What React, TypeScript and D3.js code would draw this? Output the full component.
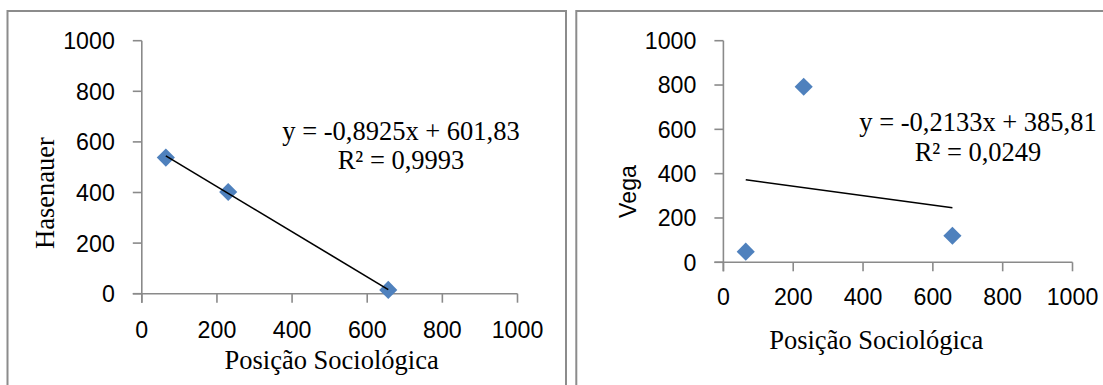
import React from "react";
import * as d3 from "d3";

// posição sociológica (x) shared by both panels
const posicao = [64, 230, 656];
const hasenauer = [538, 402, 15];
const vega = [48, 792, 120];
const tickValues = [0, 200, 400, 600, 800, 1000];

const panels = [
  {
    key: "hasenauer",
    yTitle: "Hasenauer",
    yTitleSerif: true,
    values: hasenauer,
    slope: -0.8925,
    intercept: 601.83,
    eq: "y = -0,8925x + 601,83",
    r2: "R² = 0,9993",
    frame: { x: 7.5, y: 11, w: 558.5 },
    xRange: [141.8, 517.5],
    yRange: [293.7, 40.7],
    xLabelDy: 44.5,
    yTitlePos: [44.6, 193],
    xTitlePos: [331.6, 369],
    eqPos: [401, 139.5, 168.5],
  },
  {
    key: "vega",
    yTitle: "Vega",
    yTitleSerif: false,
    values: vega,
    slope: -0.2133,
    intercept: 385.81,
    eq: "y = -0,2133x + 385,81",
    r2: "R² = 0,0249",
    frame: { x: 576.3, y: 11, w: 540 },
    xRange: [723.4, 1072.5],
    yRange: [262.3, 40.7],
    xLabelDy: 43,
    yTitlePos: [627.5, 191.5],
    xTitlePos: [876.3, 348.5],
    eqPos: [978, 131, 160.5],
  },
];

const SANS = "'Liberation Sans', Arial, sans-serif";
const SERIF = "'Liberation Serif', 'Times New Roman', serif";
const AXIS = "#8a8a8a";
const MARKER = "#4f81bd";
const TICK_FS = 23.2;

function Panel({ p }: { p: (typeof panels)[number] }) {
  const x = d3.scaleLinear().domain([0, 1000]).range(p.xRange);
  const y = d3.scaleLinear().domain([0, 1000]).range(p.yRange);
  const diamond = d3.symbol(d3.symbolDiamond2, 210)();
  const x0 = d3.min(posicao)!;
  const x1 = d3.max(posicao)!;

  return (
    <g>
      {/* chart frame, runs off the bottom of the picture */}
      <path
        d={`M${p.frame.x},400 V${p.frame.y} H${p.frame.x + p.frame.w}${p.key === "hasenauer" ? " V400" : ""}`}
        fill="none"
        stroke="#8c8c8c"
        strokeWidth={2}
      />

      {/* axes */}
      <line x1={x(0) - 9} x2={x(1000)} y1={y(0)} y2={y(0)} stroke={AXIS} strokeWidth={1.6} />
      <line x1={x(0)} x2={x(0)} y1={y(1000)} y2={y(0) + 9} stroke={AXIS} strokeWidth={1.6} />
      {tickValues.map((t) => (
        <g key={t}>
          <line x1={x(0) - 9} x2={x(0)} y1={y(t)} y2={y(t)} stroke={AXIS} strokeWidth={1.6} />
          <line x1={x(t)} x2={x(t)} y1={y(0)} y2={y(0) + 9} stroke={AXIS} strokeWidth={1.6} />
          <text x={x(0) - 27} y={y(t) + 8.4} textAnchor="end" fontFamily={SANS} fontSize={TICK_FS} fill="#000">
            {t}
          </text>
          <text x={x(t)} y={y(0) + p.xLabelDy} textAnchor="middle" fontFamily={SANS} fontSize={TICK_FS} fill="#000">
            {t}
          </text>
        </g>
      ))}

      {/* axis titles */}
      <text
        transform={`translate(${p.yTitlePos[0]},${p.yTitlePos[1]}) rotate(-90)`}
        textAnchor="middle"
        dy="0.35em"
        fontFamily={p.yTitleSerif ? SERIF : SANS}
        fontSize={p.yTitleSerif ? 26.5 : TICK_FS}
        fill="#000"
      >
        {p.yTitle}
      </text>
      <text x={p.xTitlePos[0]} y={p.xTitlePos[1]} textAnchor="middle" fontFamily={SERIF} fontSize={26.5} fill="#000">
        Posição Sociológica
      </text>

      {/* points */}
      {posicao.map((v, i) => (
        <path key={i} d={diamond!} transform={`translate(${x(v)},${y(p.values[i])})`} fill={MARKER} />
      ))}

      {/* linear trendline */}
      <line
        x1={x(x0)}
        y1={y(p.slope * x0 + p.intercept)}
        x2={x(x1)}
        y2={y(p.slope * x1 + p.intercept)}
        stroke="#000"
        strokeWidth={1.6}
      />
      <text x={p.eqPos[0]} y={p.eqPos[1]} textAnchor="middle" fontFamily={SERIF} fontSize={26.5} fill="#000">
        {p.eq}
      </text>
      <text x={p.eqPos[0]} y={p.eqPos[2]} textAnchor="middle" fontFamily={SERIF} fontSize={26.5} fill="#000">
        {p.r2}
      </text>
    </g>
  );
}

export default function App() {
  return (
    <div style={{ position: "absolute", left: 0, top: 0 }}>
      <svg width={1103} height={385} style={{ display: "block", background: "#fff" }}>
        {panels.map((p) => (
          <Panel key={p.key} p={p} />
        ))}
      </svg>
    </div>
  );
}
